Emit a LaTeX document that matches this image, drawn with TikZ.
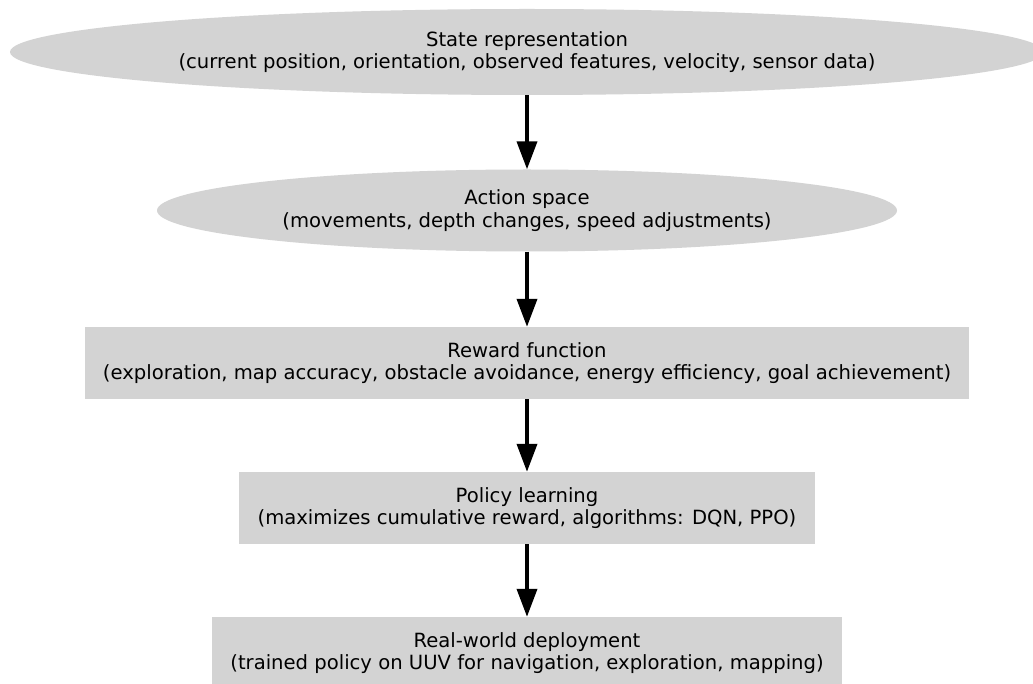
\documentclass[tikz,border=0pt]{standalone}
\usepackage{fontspec}
\setmainfont{DejaVu Sans}
\usetikzlibrary{shapes.geometric,arrows.meta}
\definecolor{boxgray}{HTML}{D3D3D3}
\begin{document}
\begin{tikzpicture}[x=1pt,y=-1pt,
  stage/.style={fill=boxgray,draw=none,inner sep=0pt,align=center,
    font=\fontsize{19.6}{22.5}\selectfont},
  oval/.style={stage,ellipse},
  panel/.style={stage,rectangle},
  flow/.style={line width=3.8pt,-{Triangle[length=28pt,width=20pt]}}]
\useasboundingbox (0,0) rectangle (1033,684);
\node[oval,minimum width=1034,minimum height=86] (state) at (527,52)
  {State representation\\(current position, orientation, observed features, velocity, sensor data)};
\node[oval,minimum width=740,minimum height=82] (action) at (527,210.5)
  {Action space\\(movements, depth changes, speed adjustments)};
\node[panel,minimum width=884,minimum height=72] (reward) at (527,363)
  {Reward function\\(exploration, map accuracy, obstacle avoidance, energy efficiency, goal achievement)};
\node[panel,minimum width=576,minimum height=72] (policy) at (527,508)
  {Policy learning\\(maximizes cumulative reward, algorithms: DQN, PPO)};
\node[panel,minimum width=630,minimum height=72] (deploy) at (527,653)
  {Real-world deployment\\(trained policy on UUV for navigation, exploration, mapping)};
\draw[flow] (state.south) -- (action.north);
\draw[flow] (action.south) -- (reward.north);
\draw[flow] (reward.south) -- (policy.north);
\draw[flow] (policy.south) -- (deploy.north);
\end{tikzpicture}
\end{document}
